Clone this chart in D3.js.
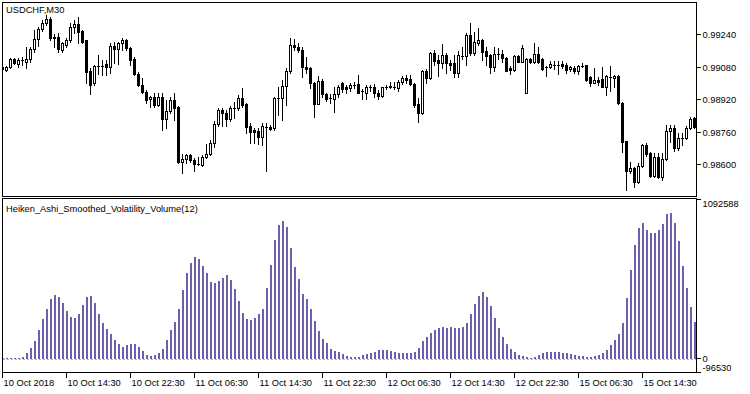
<!DOCTYPE html>
<html>
<head>
<meta charset="utf-8">
<script src="https://cdn.jsdelivr.net/npm/d3@7"></script>
<style>
  html, body { margin: 0; padding: 0; background: #fff; }
  svg { display: block; }
  text { font-family: "Liberation Sans", Arial, sans-serif; font-size: 9.3px; fill: #000; }
</style>
</head>
<body>
<div id="chart"></div>
<script>
// USDCHF M30 candles + Heiken_Ashi_Smoothed_Volatility_Volume(12) histogram

// OHLC, one entry per M30 bar (174 bars, 10 Oct 06:30 -> 15 Oct 17:00)
const open = [
  0.99078,0.99063,0.99078,0.99117,0.99093,0.99112,0.99103,0.99117,0.99166,0.99216,
  0.99265,0.99294,0.99314,0.99225,0.99225,0.99162,0.99186,0.99211,0.99274,0.99289,
  0.99255,0.99211,0.99058,0.98999,0.99083,0.99083,0.99093,0.99078,0.99181,0.99166,
  0.99196,0.99211,0.99171,0.99117,0.99044,0.98990,0.98955,0.98921,0.98931,0.98891,
  0.98931,0.98823,0.98862,0.98916,0.98882,0.98612,0.98626,0.98646,0.98621,0.98602,
  0.98597,0.98636,0.98651,0.98705,0.98798,0.98867,0.98852,0.98823,0.98877,0.98877,
  0.98926,0.98896,0.98788,0.98769,0.98764,0.98734,0.98783,0.98783,0.98779,0.98926,
  0.98926,0.98985,0.99058,0.99186,0.99176,0.99162,0.99078,0.99073,0.98999,0.98896,
  0.99009,0.98945,0.98926,0.98921,0.98945,0.98999,0.98980,0.98975,0.98990,0.98995,
  0.98960,0.98950,0.98980,0.98980,0.98950,0.98936,0.98980,0.98985,0.98980,0.98975,
  0.99004,0.99024,0.99019,0.98995,0.98896,0.98852,0.99058,0.99024,0.99147,0.99112,
  0.99098,0.99137,0.99098,0.99098,0.99049,0.99132,0.99132,0.99235,0.99147,0.99196,
  0.99211,0.99157,0.99137,0.99078,0.99142,0.99142,0.99122,0.99073,0.99063,0.99132,
  0.99103,0.98950,0.99117,0.99103,0.99142,0.99117,0.99078,0.99078,0.99088,0.99088,
  0.99093,0.99088,0.99068,0.99073,0.99058,0.99083,0.99088,0.99029,0.98999,0.99014,
  0.99019,0.98980,0.99029,0.99024,0.99034,0.98901,0.98715,0.98567,0.98582,0.98513,
  0.98592,0.98695,0.98656,0.98543,0.98636,0.98538,0.98626,0.98764,0.98779,0.98680,
  0.98729,0.98729,0.98779,0.98828
];
const high = [
  0.99083,0.99083,0.99122,0.99122,0.99122,0.99127,0.99176,0.99176,0.99260,0.99274,
  0.99309,0.99333,0.99324,0.99240,0.99245,0.99201,0.99220,0.99294,0.99309,0.99324,
  0.99260,0.99211,0.99073,0.99088,0.99137,0.99112,0.99112,0.99196,0.99201,0.99201,
  0.99220,0.99216,0.99176,0.99127,0.99053,0.99024,0.98965,0.98936,0.98950,0.98950,
  0.98950,0.98916,0.98931,0.98950,0.98887,0.98651,0.98651,0.98651,0.98631,0.98636,
  0.98646,0.98700,0.98720,0.98813,0.98877,0.98877,0.98867,0.98887,0.98906,0.98941,
  0.98975,0.98901,0.98803,0.98779,0.98779,0.98803,0.98803,0.98793,0.98931,0.98980,
  0.99014,0.99073,0.99220,0.99216,0.99196,0.99176,0.99127,0.99078,0.99004,0.99034,
  0.99019,0.98950,0.98945,0.98980,0.98990,0.99004,0.98990,0.98999,0.99004,0.99039,
  0.98970,0.98990,0.98990,0.98995,0.98965,0.98980,0.98990,0.99004,0.99004,0.99014,
  0.99034,0.99039,0.99039,0.98999,0.98926,0.99063,0.99068,0.99152,0.99162,0.99137,
  0.99191,0.99147,0.99112,0.99137,0.99157,0.99176,0.99245,0.99294,0.99250,0.99270,
  0.99216,0.99176,0.99142,0.99176,0.99171,0.99162,0.99127,0.99083,0.99137,0.99137,
  0.99186,0.99122,0.99122,0.99196,0.99176,0.99122,0.99083,0.99107,0.99107,0.99107,
  0.99107,0.99098,0.99083,0.99083,0.99088,0.99098,0.99088,0.99034,0.99073,0.99029,
  0.99078,0.99039,0.99083,0.99039,0.99039,0.98906,0.98715,0.98612,0.98587,0.98607,
  0.98700,0.98705,0.98661,0.98656,0.98656,0.98656,0.98793,0.98793,0.98793,0.98754,
  0.98754,0.98788,0.98833,0.98833
];
const low = [
  0.99063,0.99058,0.99073,0.99093,0.99078,0.99088,0.99073,0.99103,0.99152,0.99181,
  0.99255,0.99284,0.99211,0.99176,0.99152,0.99152,0.99176,0.99201,0.99245,0.99196,
  0.99196,0.98999,0.98945,0.98990,0.99044,0.99039,0.99039,0.99049,0.99098,0.99093,
  0.99162,0.99162,0.99088,0.99039,0.98985,0.98950,0.98901,0.98882,0.98882,0.98887,
  0.98769,0.98779,0.98852,0.98818,0.98607,0.98558,0.98607,0.98612,0.98567,0.98597,
  0.98592,0.98631,0.98646,0.98685,0.98788,0.98788,0.98788,0.98813,0.98828,0.98867,
  0.98882,0.98754,0.98705,0.98705,0.98700,0.98695,0.98567,0.98769,0.98769,0.98842,
  0.98818,0.98891,0.99049,0.99162,0.99152,0.99029,0.99049,0.98975,0.98833,0.98896,
  0.98931,0.98911,0.98901,0.98857,0.98931,0.98955,0.98950,0.98960,0.98975,0.98950,
  0.98921,0.98921,0.98960,0.98931,0.98921,0.98931,0.98970,0.98975,0.98970,0.98960,
  0.98995,0.98999,0.98990,0.98882,0.98808,0.98847,0.98999,0.99019,0.99088,0.99034,
  0.99073,0.99049,0.99063,0.99029,0.99029,0.99117,0.99088,0.99137,0.99137,0.99186,
  0.99112,0.99088,0.99049,0.99058,0.99117,0.99103,0.99058,0.99044,0.99058,0.99103,
  0.99103,0.98950,0.99098,0.99098,0.99098,0.99063,0.99034,0.99073,0.99068,0.99044,
  0.99073,0.99049,0.99058,0.99049,0.99044,0.99078,0.99009,0.98985,0.98999,0.98990,
  0.98980,0.98941,0.98960,0.98980,0.98896,0.98661,0.98474,0.98558,0.98489,0.98508,
  0.98587,0.98641,0.98538,0.98538,0.98533,0.98523,0.98621,0.98710,0.98666,0.98671,
  0.98695,0.98725,0.98774,0.98779
];
const close = [
  0.99068,0.99078,0.99117,0.99098,0.99112,0.99112,0.99117,0.99166,0.99216,0.99265,
  0.99294,0.99314,0.99220,0.99220,0.99166,0.99196,0.99211,0.99274,0.99289,0.99250,
  0.99201,0.99053,0.98990,0.99083,0.99083,0.99083,0.99078,0.99181,0.99166,0.99196,
  0.99211,0.99171,0.99112,0.99044,0.98990,0.98955,0.98916,0.98931,0.98891,0.98931,
  0.98823,0.98862,0.98916,0.98877,0.98612,0.98626,0.98646,0.98621,0.98602,0.98602,
  0.98636,0.98651,0.98705,0.98798,0.98867,0.98852,0.98823,0.98877,0.98877,0.98926,
  0.98891,0.98783,0.98759,0.98759,0.98734,0.98788,0.98783,0.98774,0.98926,0.98926,
  0.98985,0.99058,0.99186,0.99176,0.99162,0.99078,0.99068,0.98999,0.98896,0.99009,
  0.98945,0.98921,0.98926,0.98945,0.98980,0.98970,0.98970,0.98990,0.98990,0.98950,
  0.98960,0.98980,0.98980,0.98950,0.98936,0.98980,0.98980,0.98980,0.98980,0.99004,
  0.99024,0.99014,0.98995,0.98891,0.98852,0.99058,0.99024,0.99147,0.99107,0.99098,
  0.99137,0.99098,0.99088,0.99049,0.99137,0.99132,0.99235,0.99147,0.99201,0.99211,
  0.99152,0.99132,0.99078,0.99142,0.99142,0.99122,0.99058,0.99063,0.99132,0.99103,
  0.99171,0.99117,0.99103,0.99142,0.99103,0.99068,0.99078,0.99093,0.99088,0.99088,
  0.99083,0.99063,0.99078,0.99058,0.99083,0.99083,0.99014,0.98999,0.99014,0.99004,
  0.98980,0.99034,0.99029,0.99034,0.98901,0.98710,0.98567,0.98582,0.98513,0.98592,
  0.98695,0.98651,0.98543,0.98636,0.98538,0.98626,0.98764,0.98779,0.98680,0.98729,
  0.98729,0.98779,0.98823,0.98783
];

// indicator histogram values, same bars
const volVolume = [
  4000,5000,5000,5000,9000,16000,39000,74000,124000,199000,
  275000,344000,412000,440000,426000,385000,330000,289000,280000,309000,
  371000,426000,435000,383000,309000,249000,206000,170000,128000,103000,
  82000,96000,103000,103000,85000,55000,27000,21000,27000,43000,
  69000,131000,199000,254000,344000,474000,593000,660000,701000,687000,
  639000,591000,527000,522000,536000,559000,577000,543000,479000,398000,
  316000,275000,268000,280000,309000,344000,486000,646000,818000,921000,
  948000,907000,763000,634000,550000,447000,410000,341000,261000,192000,
  137000,110000,69000,55000,50000,34000,19000,14000,14000,14000,
  27000,34000,41000,50000,60000,62000,62000,55000,48000,43000,
  43000,43000,43000,50000,74000,124000,153000,181000,199000,213000,
  218000,213000,218000,213000,213000,218000,249000,309000,378000,433000,
  460000,426000,364000,280000,211000,149000,101000,69000,48000,27000,
  21000,16000,9000,14000,25000,41000,48000,48000,48000,48000,
  41000,41000,34000,27000,23000,21000,16000,16000,21000,27000,
  43000,64000,96000,133000,170000,249000,417000,611000,783000,898000,
  934000,888000,864000,864000,886000,925000,994000,1001000,934000,811000,
  641000,486000,355000,256000
];

// axis labels
const timeLabels = ["10 Oct 2018", "10 Oct 14:30", "10 Oct 22:30", "11 Oct 06:30", "11 Oct 14:30",
  "11 Oct 22:30", "12 Oct 06:30", "12 Oct 14:30", "12 Oct 22:30", "15 Oct 06:30", "15 Oct 14:30"];
const barsPerLabel = 16;
const priceTicks = [0.98600, 0.98760, 0.98920, 0.99080, 0.99240];
const histTicks = [1092588, 0, -96530];

const W = 750, H = 394;
const left = 2.5, right = 696.5;
const top1 = 2.5, bottom1 = 196.5;
const top2 = 198.5, bottom2 = 372.5;

const svg = d3.select("#chart").append("svg")
  .attr("width", W).attr("height", H)
  .attr("shape-rendering", "crispEdges");

const n = open.length;
const x = d3.scaleLinear().domain([0, n - 1]).range([2, 2 + 4 * (n - 1)]);
const yPrice = d3.scaleLinear().domain([0.98445, 0.99397]).range([196, 2]);
const yHist = d3.scaleLinear().domain([-96530, 1092588]).range([373, 200]);

svg.append("clipPath").attr("id", "clipTop")
  .append("rect").attr("x", 3).attr("y", 3).attr("width", right - 3).attr("height", bottom1 - 3);
svg.append("clipPath").attr("id", "clipBot")
  .append("rect").attr("x", 3).attr("y", top2 + 0.5).attr("width", right - 3).attr("height", bottom2 - top2 - 1);

// ---- candles ----
const bars = d3.range(n).map(i => ({ i, o: open[i], h: high[i], l: low[i], c: close[i] }));
const cg = svg.append("g").attr("clip-path", "url(#clipTop)");

const candle = cg.selectAll("g.candle").data(bars).join("g").attr("class", "candle");

candle.append("line")
  .attr("x1", d => x(d.i) + 0.5).attr("x2", d => x(d.i) + 0.5)
  .attr("y1", d => Math.round(yPrice(d.h)))
  .attr("y2", d => Math.round(yPrice(d.l)) + 1)
  .attr("stroke", "#000");

candle.each(function(d) {
  const g = d3.select(this);
  const cx = x(d.i);
  const yt = Math.round(yPrice(Math.max(d.o, d.c)));
  const yb = Math.round(yPrice(Math.min(d.o, d.c)));
  if (yb - yt < 2) {
    // doji / tiny body: flat bar
    g.append("rect").attr("x", cx - 1).attr("y", yt).attr("width", 3).attr("height", Math.max(1, yb - yt + 1))
      .attr("fill", "#000");
  } else if (d.c > d.o) {
    g.append("rect").attr("x", cx - 0.5).attr("y", yt + 0.5).attr("width", 2).attr("height", yb - yt)
      .attr("fill", "#fff").attr("stroke", "#000");
  } else {
    g.append("rect").attr("x", cx - 1).attr("y", yt).attr("width", 3).attr("height", yb - yt + 1)
      .attr("fill", "#000");
  }
});

// ---- histogram ----
const hg = svg.append("g").attr("clip-path", "url(#clipBot)");
const y0 = Math.round(yHist(0));

hg.append("line")
  .attr("x1", left).attr("x2", right)
  .attr("y1", y0 + 0.5).attr("y2", y0 + 0.5)
  .attr("stroke", "#b4aede").attr("stroke-dasharray", "2,2");

hg.selectAll("rect.vol").data(volVolume).join("rect")
  .attr("class", "vol")
  .attr("x", (d, i) => x(i))
  .attr("width", 2)
  .attr("y", d => Math.round(yHist(d)))
  .attr("height", d => Math.max(0, y0 - Math.round(yHist(d))))
  .attr("fill", "#6b5fae");

// ---- panel frames ----
svg.append("rect").attr("x", left).attr("y", top1).attr("width", right - left).attr("height", bottom1 - top1)
  .attr("fill", "none").attr("stroke", "#000");
svg.append("rect").attr("x", left).attr("y", top2).attr("width", right - left).attr("height", bottom2 - top2)
  .attr("fill", "none").attr("stroke", "#000");

// ---- right axes ----
const priceAxis = svg.append("g")
  .attr("transform", `translate(${right},0)`)
  .call(d3.axisRight(yPrice).tickValues(priceTicks).tickSize(4).tickPadding(2).tickFormat(d3.format(".5f")));
priceAxis.select(".domain").remove();
priceAxis.selectAll(".tick").attr("transform", d => `translate(0,${Math.round(yPrice(d)) + 0.5})`);
priceAxis.selectAll(".tick line").attr("stroke", "#000");
priceAxis.selectAll("text").attr("dy", "0.35em").attr("font-size", null).attr("font-family", null);

const histAxis = svg.append("g")
  .attr("transform", `translate(${right},0)`)
  .call(d3.axisRight(yHist).tickValues(histTicks).tickSize(4).tickPadding(2).tickFormat(d => String(d)));
histAxis.select(".domain").remove();
histAxis.selectAll(".tick").attr("transform", d => `translate(0,${Math.round(yHist(d)) - 0.5})`);
histAxis.selectAll(".tick line").attr("stroke", "#000");
histAxis.selectAll("text")
  .attr("font-size", null).attr("font-family", null)
  .attr("dy", d => d === histTicks[0] ? "0.85em" : d === histTicks[2] ? "-0.15em" : "0.35em");

// ---- time axis ----
const tickIdx = timeLabels.map((t, k) => k * barsPerLabel);
const timeAxis = svg.append("g")
  .attr("transform", `translate(0,${bottom2})`)
  .call(d3.axisBottom(x).tickValues(tickIdx).tickSize(5).tickFormat((d, k) => timeLabels[k]));
timeAxis.select(".domain").remove();
timeAxis.selectAll(".tick").attr("transform", d => `translate(${x(d) + 0.5},0)`);
timeAxis.selectAll(".tick line").attr("stroke", "#000");
timeAxis.selectAll("text")
  .attr("font-size", null).attr("font-family", null)
  .attr("text-anchor", "start").attr("x", 1).attr("y", 13).attr("dy", 0);

// ---- titles ----
svg.append("text").attr("x", 6).attr("y", 13).text("USDCHF,M30");
svg.append("text").attr("x", 6).attr("y", 212).text("Heiken_Ashi_Smoothed_Volatility_Volume(12)");
</script>
</body>
</html>
